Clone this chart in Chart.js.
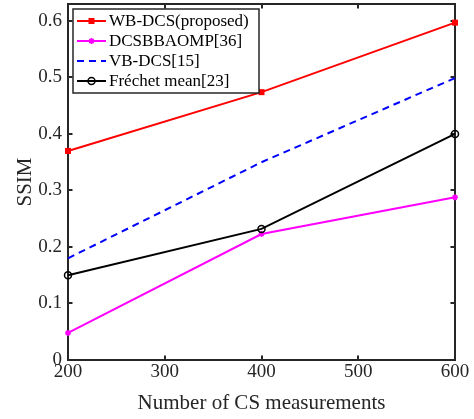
<!DOCTYPE html>
<html>
<head>
<meta charset="utf-8">
<script src="https://cdn.jsdelivr.net/npm/chart.js@4/dist/chart.umd.min.js"></script>
<style>
  html, body { margin: 0; padding: 0; background: #fff; }
  #wrap { width: 474px; height: 419px; }
</style>
</head>
<body>
<div id="wrap"><canvas id="c" width="474" height="419"></canvas></div>
<script>
// ---- data ----
const xValues = [200, 400, 600];
const wbDcs = [0.370, 0.474, 0.597];
const dcsbbaomp = [0.048, 0.223, 0.288];
const vbDcs = [0.180, 0.350, 0.499];
const frechet = [0.150, 0.232, 0.400];
const seriesNames = ['WB-DCS(proposed)', 'DCSBBAOMP[36]', 'VB-DCS[15]', 'Fr\u00e9chet mean[23]'];
const xTicks = [200, 300, 400, 500, 600];
const yTicks = [0, 0.1, 0.2, 0.3, 0.4, 0.5, 0.6];
const xTitle = 'Number of CS measurements';
const yTitle = 'SSIM';

const FONT = "'Liberation Serif', 'Times New Roman', serif";
const AXIS = '#262626';

const pts = arr => xValues.map((x, i) => ({ x: x, y: arr[i] }));

const framePlugin = {
  id: 'frame',
  beforeDatasetsDraw(chart) {
    const { ctx, chartArea: a, scales } = chart;
    ctx.save();
    ctx.strokeStyle = AXIS;
    ctx.lineWidth = 2;
    ctx.beginPath();
    const L = 4.5;
    xTicks.forEach(v => {
      const px = Math.round(scales.x.getPixelForValue(v));
      ctx.moveTo(px, a.bottom); ctx.lineTo(px, a.bottom - L);
      ctx.moveTo(px, a.top); ctx.lineTo(px, a.top + L);
    });
    yTicks.forEach(v => {
      const py = Math.round(scales.y.getPixelForValue(v));
      ctx.moveTo(a.left, py); ctx.lineTo(a.left + L, py);
      ctx.moveTo(a.right, py); ctx.lineTo(a.right - L, py);
    });
    ctx.stroke();
    ctx.strokeRect(a.left, a.top, a.right - a.left, a.bottom - a.top);
    ctx.restore();
  }
};

function drawMarker(ctx, style, x, y, ds) {
  ctx.save();
  ctx.strokeStyle = ds.borderColor;
  ctx.fillStyle = ds.pointBackgroundColor;
  ctx.lineWidth = 1.5;
  if (style === 'rect') {
    ctx.fillRect(x - 3, y - 3, 6, 6);
  } else if (style === 'star') {
    ctx.beginPath();
    const r = 3;
    ctx.moveTo(x - r, y); ctx.lineTo(x + r, y);
    ctx.moveTo(x, y - r); ctx.lineTo(x, y + r);
    ctx.moveTo(x - r * 0.7, y - r * 0.7); ctx.lineTo(x + r * 0.7, y + r * 0.7);
    ctx.moveTo(x - r * 0.7, y + r * 0.7); ctx.lineTo(x + r * 0.7, y - r * 0.7);
    ctx.stroke();
  } else if (style === 'circle') {
    ctx.beginPath();
    ctx.arc(x, y, 3.5, 0, Math.PI * 2);
    ctx.stroke();
  }
  ctx.restore();
}

const markerPlugin = {
  id: 'markers',
  afterDatasetsDraw(chart) {
    const { ctx } = chart;
    chart.data.datasets.forEach((ds, i) => {
      if (!ds.pointStyle || !(ds._r > 0)) return;
      chart.getDatasetMeta(i).data.forEach(el => drawMarker(ctx, ds.pointStyle, el.x, el.y, ds));
    });
  }
};

const legendPlugin = {
  id: 'boxLegend',
  afterDatasetsDraw(chart) {
    const { ctx } = chart;
    const bx = 73, by = 9, bw = 186, bh = 84;
    ctx.save();
    ctx.fillStyle = '#fff';
    ctx.fillRect(bx, by, bw, bh);
    ctx.strokeStyle = AXIS;
    ctx.lineWidth = 1.5;
    ctx.strokeRect(bx, by, bw, bh);
    ctx.font = "17px " + FONT;
    ctx.textBaseline = 'middle';
    ctx.textAlign = 'left';
    chart.data.datasets.forEach((ds, i) => {
      const y = by + 12 + i * 20;
      ctx.save();
      ctx.strokeStyle = ds.borderColor;
      ctx.lineWidth = ds.borderWidth;
      ctx.setLineDash(ds.borderDash || []);
      ctx.beginPath();
      ctx.moveTo(bx + 4, y); ctx.lineTo(bx + 33, y);
      ctx.stroke();
      ctx.restore();
      if (ds.pointStyle && ds._r > 0) drawMarker(ctx, ds.pointStyle, bx + 18.5, y, ds);
      ctx.fillStyle = '#000';
      ctx.fillText(ds.label, bx + 36, y + 1);
    });
    ctx.restore();
  }
};

new Chart(document.getElementById('c'), {
  type: 'line',
  data: {
    datasets: [
      { label: seriesNames[0], data: pts(wbDcs), borderColor: '#ff0000', pointBackgroundColor: '#ff0000', borderWidth: 2, pointStyle: 'rect', _r: 3 },
      { label: seriesNames[1], data: pts(dcsbbaomp), borderColor: '#ff00ff', pointBackgroundColor: '#ff00ff', borderWidth: 2, pointStyle: 'star', _r: 3 },
      { label: seriesNames[2], data: pts(vbDcs), borderColor: '#0000ff', pointBackgroundColor: '#0000ff', borderWidth: 2, borderDash: [7, 5], pointStyle: false, _r: 0 },
      { label: seriesNames[3], data: pts(frechet), borderColor: '#000000', pointBackgroundColor: '#ffffff', borderWidth: 2, pointStyle: 'circle', _r: 3.5 }
    ].map(d => Object.assign({ fill: false, tension: 0, showLine: true, pointHoverRadius: 0, clip: false, pointRadius: 0 }, d))
  },
  options: {
    responsive: false,
    devicePixelRatio: 1,
    animation: false,
    events: [],
    layout: { padding: { top: 4, right: 19, left: 0, bottom: 0 } },
    plugins: { legend: { display: false }, tooltip: { enabled: false } },
    scales: {
      x: {
        type: 'linear', min: 200, max: 600,
        afterBuildTicks: s => { s.ticks = xTicks.map(v => ({ value: v })); },
        afterFit: s => { s.height = 59; s.paddingLeft = 0; s.paddingRight = 0; },
        grid: { display: false, drawTicks: false },
        border: { display: false },
        ticks: { font: { family: FONT, size: 19 }, color: '#262626', padding: 1, maxRotation: 0, autoSkip: false, callback: v => String(v) },
        title: { display: true, text: xTitle, font: { family: FONT, size: 21 }, color: '#262626', padding: { top: 0, bottom: 3 } }
      },
      y: {
        type: 'linear', min: 0, max: 0.63,
        afterBuildTicks: s => { s.ticks = yTicks.map(v => ({ value: v })); },
        afterFit: s => { s.width = 68; s.paddingTop = 0; s.paddingBottom = 0; },
        grid: { display: false, drawTicks: false },
        border: { display: false },
        ticks: { font: { family: FONT, size: 19 }, color: '#262626', padding: 6, autoSkip: false, callback: v => (v === 0 ? '0' : v.toFixed(1)) },
        title: { display: true, text: yTitle, font: { family: FONT, size: 21 }, color: '#262626', padding: { top: 13, bottom: 0 } }
      }
    }
  },
  plugins: [framePlugin, markerPlugin, legendPlugin]
});
</script>
</body>
</html>
